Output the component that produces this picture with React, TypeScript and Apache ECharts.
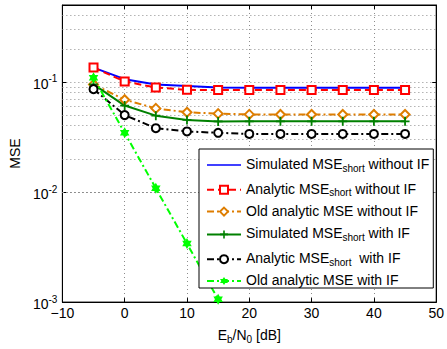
import React, { useEffect, useRef } from 'react';
import * as echarts from 'echarts';

// Eb/N0 [dB]
const ebn0 = [-5, 0, 5, 10, 15, 20, 25, 30, 35, 40, 45];
const simulatedShortNoIF = [0.135, 0.106, 0.095, 0.092, 0.089, 0.0886, 0.0885, 0.0884, 0.0884, 0.0884, 0.0884];
const analyticShortNoIF = [0.135, 0.101, 0.089, 0.0848, 0.0843, 0.0845, 0.0845, 0.0845, 0.0845, 0.0845, 0.0845];
const oldAnalyticNoIF = [0.095, 0.069, 0.0575, 0.053, 0.0515, 0.0507, 0.0506, 0.0506, 0.0506, 0.0506, 0.0506];
const simulatedShortIF = [0.095, 0.061, 0.0494, 0.0452, 0.0438, 0.0439, 0.0439, 0.0439, 0.0439, 0.0439, 0.0439];
const analyticShortIF = [0.086, 0.050, 0.038, 0.0355, 0.0345, 0.0337, 0.0337, 0.0337, 0.0337, 0.0337, 0.0337];
const oldAnalyticIF = [0.109, 0.0345, 0.0108, 0.0034, 0.00106];

const seriesNames = [
  'Simulated MSE_short without IF',
  'Analytic MSE_short without IF',
  'Old analytic MSE without IF',
  'Simulated MSE_short with IF',
  'Analytic MSE_short  with IF',
  'Old analytic MSE with IF',
];
const legendLabels = [
  '{m|Simulated MSE}{s|short}{m| without IF}',
  '{m|Analytic MSE}{s|short}{m| without IF}',
  '{m|Old analytic MSE without IF}',
  '{m|Simulated MSE}{s|short}{m| with IF}',
  '{m|Analytic MSE}{s|short}{m|  with IF}',
  '{m|Old analytic MSE with IF}',
];

const xMin = -10;
const xMax = 50;
const xInterval = 10;
const yMin = 0.001;
const yMax = 0.5;

const FONT = '"Liberation Sans", Arial, Helvetica, sans-serif';

function hexagramPath(): string {
  const pts: string[] = [];
  for (let i = 0; i < 12; i++) {
    const a = ((-90 + i * 30) * Math.PI) / 180;
    const r = i % 2 === 0 ? 10 : 5.77;
    pts.push(`${(10 + r * Math.cos(a)).toFixed(2)},${(10 + r * Math.sin(a)).toFixed(2)}`);
  }
  return 'path://M' + pts.join('L') + 'Z';
}
const PLUS = 'path://M4,0H6V4H10V6H6V10H4V6H0V4H4Z';
const LINE_ICON = 'path://M0,4.2H34V5.8H0Z';

function minorGrid(): number[] {
  const out: number[] = [];
  for (let e = -3; e <= -1; e++) {
    for (let m = 2; m <= 9; m++) {
      const v = m * Math.pow(10, e);
      if (v < yMax - 1e-9) out.push(v);
    }
  }
  return out;
}

const pairs = (ys: number[]) => ys.map((y, i) => [ebn0[i], y]);

export default function App() {
  const ref = useRef<HTMLDivElement>(null);
  useEffect(() => {
    document.body.style.margin = '0';
    if (!ref.current) return;
    const chart = echarts.init(ref.current, undefined, { renderer: 'svg' });
    const gridLine = { show: true, lineStyle: { color: '#8c8c8c', type: [1, 3] as any, width: 1 } };
    const tick = { show: true, inside: true, length: 4, lineStyle: { color: '#000' } };
    const axisLine = { show: true, onZero: false, lineStyle: { color: '#000', width: 1 } };
    const legendData = seriesNames.map((n, i) =>
      i === 0 ? { name: n, icon: LINE_ICON, itemStyle: { color: '#0000ff' } } : { name: n }
    );
    chart.setOption({
      animation: false,
      backgroundColor: '#fff',
      grid: { left: 57, top: 5, width: 381, height: 301, show: true, borderColor: '#000', borderWidth: 1 },
      legend: {
        orient: 'vertical',
        left: 199,
        top: 149,
        padding: [5, 4, 1, 7],
        itemGap: 5.8,
        itemWidth: 34,
        itemHeight: 10,
        selectedMode: false,
        backgroundColor: '#fff',
        borderColor: '#000',
        borderWidth: 1,
        borderRadius: 0,
        data: legendData,
        formatter: (name: string) => legendLabels[seriesNames.indexOf(name)],
        textStyle: {
          fontFamily: FONT,
          fontSize: 14,
          color: '#000',
          rich: {
            m: { fontFamily: FONT, fontSize: 14, lineHeight: 16, verticalAlign: 'top', color: '#000' },
            s: { fontFamily: FONT, fontSize: 10, lineHeight: 10, padding: [9, 0, 0, 0], verticalAlign: 'bottom', color: '#000' },
          },
        },
      },
      xAxis: [
        {
          type: 'value',
          min: xMin,
          max: xMax,
          interval: xInterval,
          position: 'bottom',
          axisLine,
          axisTick: tick,
          splitLine: gridLine,
          axisLabel: {
            margin: 4,
            fontFamily: FONT,
            fontSize: 14,
            color: '#000',
            formatter: (v: number) => (v < 0 ? '\u2212' + Math.abs(v) : String(v)),
          },
          name: '{m|E}{s|b}{m|/N}{s|0}{m| [dB]}',
          nameLocation: 'middle',
          nameGap: 20,
          nameTextStyle: {
            fontFamily: FONT,
            fontSize: 14,
            color: '#000',
            rich: {
              m: { fontFamily: FONT, fontSize: 14, lineHeight: 16, verticalAlign: 'top', color: '#000' },
              s: { fontFamily: FONT, fontSize: 10, lineHeight: 10, padding: [9, 0, 0, 0], verticalAlign: 'bottom', color: '#000' },
            },
          },
        },
        {
          type: 'value',
          min: xMin,
          max: xMax,
          interval: xInterval,
          position: 'top',
          axisLine,
          axisTick: tick,
          splitLine: { show: false },
          axisLabel: { show: false },
        },
      ],
      yAxis: [
        {
          type: 'log',
          logBase: 10,
          min: yMin,
          max: yMax,
          position: 'left',
          axisLine,
          axisTick: tick,
          splitLine: gridLine,
          axisLabel: {
            margin: 5,
            showMaxLabel: false,
            fontFamily: FONT,
            color: '#000',
            formatter: (v: number) => `{b|10}{e|${Math.round(Math.log10(v))}}`,
            rich: {
              b: { fontFamily: FONT, fontSize: 14, lineHeight: 16, padding: [3, 0, 0, 0], verticalAlign: 'top', color: '#000' },
              e: { fontFamily: FONT, fontSize: 10, lineHeight: 10, verticalAlign: 'top', color: '#000' },
            },
          },
          name: 'MSE',
          nameLocation: 'middle',
          nameGap: 36,
          nameTextStyle: { fontFamily: FONT, fontSize: 14, color: '#000' },
        },
        {
          type: 'log',
          logBase: 10,
          min: yMin,
          max: yMax,
          position: 'right',
          axisLine,
          axisTick: tick,
          splitLine: { show: false },
          axisLabel: { show: false },
        },
      ],
      series: [
        {
          name: seriesNames[0],
          type: 'line',
          data: pairs(simulatedShortNoIF),
          symbol: 'none',
          lineStyle: { color: '#0000ff', width: 2, type: 'solid' },
          itemStyle: { color: '#0000ff' },
          z: 3,
          markLine: {
            silent: true,
            symbol: 'none',
            label: { show: false },
            lineStyle: { color: '#8c8c8c', type: [1, 3], width: 1 },
            data: minorGrid().map((v) => ({ yAxis: v })),
            z: 1,
          },
        },
        {
          name: seriesNames[1],
          type: 'line',
          data: pairs(analyticShortNoIF),
          symbol: 'rect',
          symbolSize: 8,
          lineStyle: { color: '#ff0000', width: 2, type: [7, 4] },
          itemStyle: { color: '#fff', borderColor: '#ff0000', borderWidth: 2 },
          z: 3,
        },
        {
          name: seriesNames[2],
          type: 'line',
          data: pairs(oldAnalyticNoIF),
          symbol: 'diamond',
          symbolSize: 9,
          lineStyle: { color: '#de7d00', width: 2, type: [7, 3, 2, 3] },
          itemStyle: { color: '#fff', borderColor: '#de7d00', borderWidth: 2 },
          z: 3,
        },
        {
          name: seriesNames[3],
          type: 'line',
          data: pairs(simulatedShortIF),
          symbol: PLUS,
          symbolSize: 9,
          lineStyle: { color: '#008000', width: 2, type: 'solid' },
          itemStyle: { color: '#008000' },
          z: 3,
        },
        {
          name: seriesNames[4],
          type: 'line',
          data: pairs(analyticShortIF),
          symbol: 'circle',
          symbolSize: 8,
          lineStyle: { color: '#000', width: 2, type: [7, 3, 2, 3] },
          itemStyle: { color: '#fff', borderColor: '#000', borderWidth: 2 },
          z: 3,
        },
        {
          name: seriesNames[5],
          type: 'line',
          data: pairs(oldAnalyticIF),
          symbol: hexagramPath(),
          symbolSize: 11,
          symbolKeepAspect: true,
          lineStyle: { color: '#00ff00', width: 2, type: [7, 3, 2, 3] },
          itemStyle: { color: '#00ff00' },
          z: 3,
        },
      ],
    });
    return () => chart.dispose();
  }, []);
  return <div ref={ref} style={{ width: 447, height: 349 }} />;
}
